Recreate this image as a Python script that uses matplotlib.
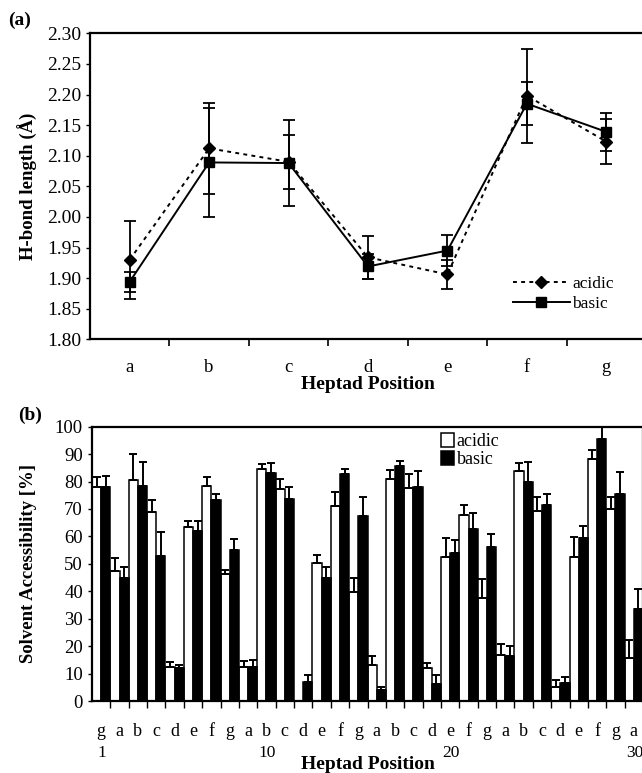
import numpy as np
import matplotlib
matplotlib.use("Agg")
import matplotlib.pyplot as plt
import matplotlib.transforms as mtransforms
from matplotlib.lines import Line2D
from matplotlib.ticker import FixedLocator, FormatStrFormatter

plt.rcParams["font.family"] = ["Liberation Serif", "DejaVu Serif"]

# -----------------------------
# Data: panel (a) H-bond length
# -----------------------------
heptad = ["a", "b", "c", "d", "e", "f", "g"]
acidic_len = [1.930, 2.112, 2.090, 1.934, 1.906, 2.198, 2.123]
acidic_len_err = [0.064, 0.074, 0.044, 0.035, 0.023, 0.077, 0.037]
basic_len = [1.894, 2.089, 2.088, 1.919, 1.945, 2.185, 2.139]
basic_len_err = [0.016, 0.089, 0.070, 0.020, 0.026, 0.035, 0.031]

# -----------------------------
# Data: panel (b) solvent accessibility
# -----------------------------
positions = list("gabcdefgabcdefgabcdefgabcdefga")
position_numbers = {0: "1", 9: "10", 19: "20", 29: "30"}
acidic_sa = [77.9, 47.5, 80.6, 68.8, 12.5, 63.3, 78.4, 46.3, 12.3, 84.6,
             77.2, 0.0, 50.4, 71.1, 39.9, 13.1, 81.0, 77.8, 11.9, 52.4,
             67.8, 37.4, 16.8, 83.9, 69.4, 5.2, 52.6, 88.1, 69.9, 15.5]
acidic_sa_err = [3.7, 4.7, 9.4, 4.5, 1.8, 2.4, 3.4, 1.5, 2.4, 1.7,
                 3.8, 0.0, 2.7, 5.2, 5.1, 3.3, 3.2, 5.0, 2.1, 6.9,
                 3.5, 7.1, 3.9, 2.8, 5.1, 2.5, 7.3, 3.4, 4.4, 6.7]
basic_sa = [77.9, 45.0, 78.4, 53.0, 11.9, 62.1, 73.3, 55.0, 12.5, 83.2,
            73.5, 7.0, 44.7, 82.8, 67.6, 4.0, 85.7, 78.1, 6.1, 53.8,
            62.6, 56.3, 16.4, 79.8, 71.5, 6.4, 59.5, 95.5, 75.5, 33.4]
basic_sa_err = [4.2, 4.0, 8.7, 8.5, 1.2, 3.7, 2.1, 4.0, 2.4, 3.4,
                4.6, 2.5, 4.3, 1.8, 6.7, 1.0, 1.8, 5.9, 3.4, 4.9,
                5.8, 4.5, 3.7, 7.2, 3.9, 2.5, 4.3, 4.6, 8.1, 7.4]

W, H = 642, 773
fig = plt.figure(figsize=(W / 100, H / 100), dpi=100)

# -----------------------------
# Panel (a)
# -----------------------------
ax1 = fig.add_axes([90 / W, 1 - 339.3 / H, 556 / W, 306 / H])
xa = np.arange(len(heptad))

acid_style = dict(color="black", linestyle=(0, (2, 2.2)), linewidth=1.4,
                  marker="D", markersize=6)
basic_style = dict(color="black", linestyle="-", linewidth=1.4,
                   marker="s", markersize=7)

ax1.errorbar(xa, acidic_len, yerr=acidic_len_err, capsize=4,
             elinewidth=1.3, capthick=1.3, **acid_style)
ax1.errorbar(xa, basic_len, yerr=basic_len_err, capsize=4,
             elinewidth=1.3, capthick=1.3, **basic_style)

ax1.set_xlim(-0.5, len(heptad) - 0.5)
ax1.set_ylim(1.80, 2.30)
ax1.set_yticks(np.arange(1.80, 2.301, 0.05))
ax1.yaxis.set_major_formatter(FormatStrFormatter("%.2f"))
ax1.set_xticks(xa)
ax1.set_xticklabels(heptad)
ax1.xaxis.set_minor_locator(FixedLocator(np.arange(0.5, len(heptad) - 0.5, 1)))
ax1.tick_params(axis="x", which="major", length=0, pad=14, labelsize=13.5)
ax1.tick_params(axis="x", which="minor", length=5, width=1.2, direction="out")
ax1.tick_params(axis="y", length=3, width=1, direction="out", labelsize=14)
for s in ax1.spines.values():
    s.set_linewidth(1.6)

ax1.set_xlabel("Heptad Position", fontsize=14, fontweight="bold")
ax1.xaxis.set_label_coords(0.5, -0.12)
ax1.set_ylabel("H-bond length (Å)", fontsize=13.5, fontweight="bold")
ax1.yaxis.set_label_coords(-0.094, 0.5)

handles = [Line2D([], [], **acid_style), Line2D([], [], **basic_style)]
ax1.legend(handles, ["acidic", "basic"], loc="center left",
           bbox_to_anchor=(0.76, 0.148), frameon=False,
           fontsize=12.5, handlelength=3.3, handletextpad=0.15,
           labelspacing=0.25, borderpad=0, borderaxespad=0)

# -----------------------------
# Panel (b)
# -----------------------------
ax2 = fig.add_axes([92 / W, 1 - 701 / H, 551 / W, 274.3 / H])
xb = np.arange(len(positions))
bw = 0.5

ax2.bar(xb - bw / 2, acidic_sa, bw, color="white", edgecolor="black",
        linewidth=1.1, label="acidic", zorder=2)
ax2.bar(xb + bw / 2, basic_sa, bw, color="black", edgecolor="black",
        linewidth=1.1, label="basic", zorder=2)
ax2.errorbar(xb - bw / 2, acidic_sa, yerr=[np.zeros(len(xb)), acidic_sa_err],
             fmt="none", ecolor="black", elinewidth=1.4, capsize=3.2,
             capthick=1.4, zorder=3)
ax2.errorbar(xb + bw / 2, basic_sa, yerr=[np.zeros(len(xb)), basic_sa_err],
             fmt="none", ecolor="black", elinewidth=1.4, capsize=3.2,
             capthick=1.4, zorder=3)

ax2.set_xlim(-0.5, len(positions) - 0.5)
ax2.set_ylim(0, 100)
ax2.set_yticks(np.arange(0, 101, 10))
ax2.set_xticks(xb)
ax2.set_xticklabels(positions)
ax2.xaxis.set_minor_locator(FixedLocator(np.arange(0.5, len(positions) - 0.5, 1)))
ax2.tick_params(axis="x", which="major", length=0, pad=16, labelsize=13)
ax2.tick_params(axis="x", which="minor", length=5, width=1, direction="out")
ax2.tick_params(axis="y", length=3, width=1, direction="out", labelsize=13.5)
for s in ax2.spines.values():
    s.set_linewidth(1.6)

trans = mtransforms.blended_transform_factory(ax2.transData, ax2.transAxes)
for idx, num in position_numbers.items():
    ax2.text(idx + 0.05, -0.19, num, transform=trans, ha="center", va="center",
             fontsize=12.5)

ax2.set_xlabel("Heptad Position", fontsize=14, fontweight="bold")
ax2.xaxis.set_label_coords(0.5, -0.2)
ax2.set_ylabel("Solvent Accessibility [%]", fontsize=13.5, fontweight="bold")
ax2.yaxis.set_label_coords(-0.1, 0.5)

ax2.legend(loc="center left", bbox_to_anchor=(0.634, 0.912), frameon=False,
           fontsize=13, handlelength=0.7, handleheight=0.75, handletextpad=0.15,
           labelspacing=0.05, borderpad=0, borderaxespad=0)

fig.text(20 / W, 1 - 20 / H, "(a)", fontsize=14, fontweight="bold",
         ha="center", va="center")
fig.text(30 / W, 1 - 415 / H, "(b)", fontsize=14, fontweight="bold",
         ha="center", va="center")

fig.savefig("out.png", dpi=100)
